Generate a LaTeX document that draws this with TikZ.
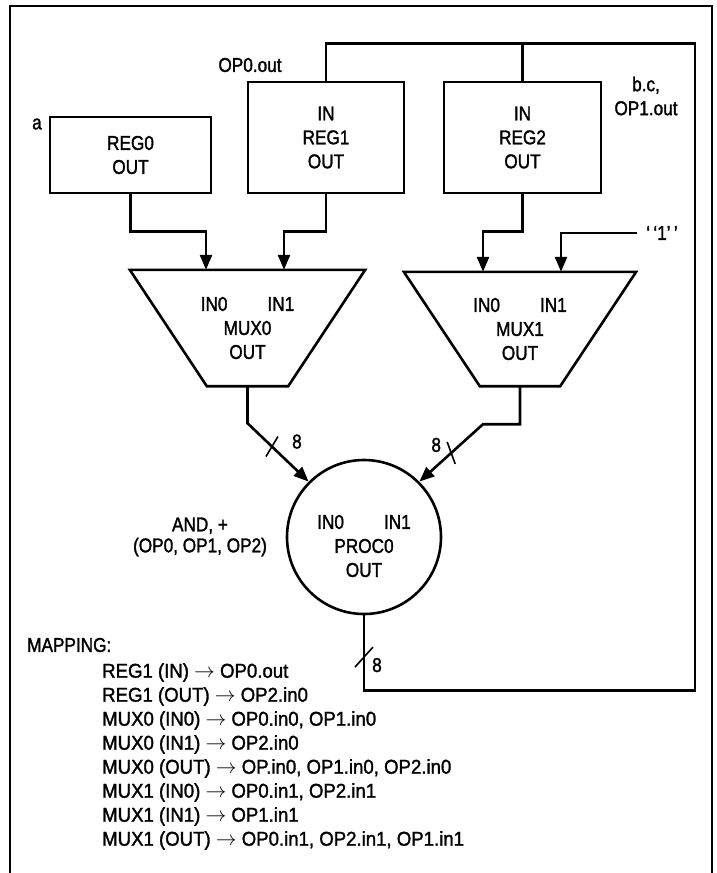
\documentclass[tikz,border=0pt]{standalone}
\usepackage{fontspec}
\setmainfont{Liberation Sans}[FakeStretch=0.86, FakeBold=1.5]
\newfontfamily\mapfont{Liberation Sans}[FakeStretch=0.93, FakeBold=1.5]
\usetikzlibrary{positioning,arrows.meta,calc}
\tikzset{
  block/.style={draw, line width=2.6pt, align=center, inner sep=0pt},
  muxbody/.style={align=center, inner sep=0pt},
  wire/.style={line width=2.6pt},
  feed/.style={wire, -{Triangle[length=15pt,width=12pt]}},
  bus/.style={line width=1.6pt},
  lbl/.style={inner sep=1pt, align=center},
  frame/.style={line width=1.4pt},
}
\newcommand{\portpair}{IN0\hspace{40pt}IN1}

\begin{document}
\begin{tikzpicture}[x=1pt, y=-1pt, font=\fontsize{20}{24}\selectfont]
  \useasboundingbox (0,0) rectangle (716,873);
  \draw[frame] (10,873) -- (10,6) -- (712,6) -- (712,873);

  % registers
  \node[block, minimum width=161pt, minimum height=76pt] (reg0) at (130.5,155) {REG0\\OUT};
  \node[block, minimum width=156pt, minimum height=111pt] (reg1) at (326,137.5) {IN\\REG1\\OUT};
  \node[block, minimum width=157pt, minimum height=111pt] (reg2) at (522.5,137.5) {IN\\REG2\\OUT};

  % multiplexers
  \node[muxbody, minimum width=235pt, minimum height=116pt] (mux0) at (247.5,328) {\portpair\\MUX0\\OUT};
  \node[muxbody, minimum width=232pt, minimum height=114pt] (mux1) at (520,329) {\portpair\\MUX1\\OUT};
  \draw[wire] (mux0.north west) -- (mux0.north east) -- ([xshift=-77pt]mux0.south east)
    -- ([xshift=77pt]mux0.south west) -- cycle;
  \draw[wire] (mux1.north west) -- (mux1.north east) -- ([xshift=-76pt]mux1.south east)
    -- ([xshift=76pt]mux1.south west) -- cycle;

  % processor
  \node[block, circle, minimum size=154pt] (proc0) at (364,537) {};
  \node[lbl] (proctext) at (364,546) {\portpair\\PROC0\\OUT};

  % register outputs and constant into the multiplexers
  \draw[feed] (reg0.south) -- ++(0,37) -| ([xshift=-41.5pt]mux0.north);
  \draw[feed] (reg1.south) -- ++(0,37) -| ([xshift=36.5pt]mux0.north);
  \draw[feed] (reg2.south) -- ++(0,37) -| ([xshift=-37pt]mux1.north);
  \node[lbl] (one) at (662,233) {`\,`1'\,'};
  \draw[feed] ([xshift=-8pt]one.west) -| ([xshift=41pt]mux1.north);

  % multiplexer outputs into the processor
  \draw[feed] (mux0.south) -- ++(0,37) -- node[coordinate, pos=0.4] (bus0) {} (proc0.135);
  \draw[feed] (mux1.south) -- ++(0,38) -- ++(-37,0) -- node[coordinate, pos=0.5] (bus1) {} (proc0.45);

  % result back to the registers
  \draw[wire] (proc0.south) -- node[coordinate, pos=0.57] (bus2) {} ++(0,75)
    -| ++(331,-647) coordinate (fbr) -| (reg1.north);
  \draw[wire] (reg2.north) -- (reg2.north |- fbr);

  % bus widths
  \draw[bus] ($(bus0)+(-6,10)$) -- ($(bus0)+(6,-10)$);
  \node[lbl] (w0) at ($(bus0)+(25,-5)$) {8};
  \draw[bus] ($(bus1)+(-4,-11)$) -- ($(bus1)+(4,11)$);
  \node[lbl] (w1) at ($(bus1)+(-15,-8)$) {8};
  \draw[bus] ($(bus2)+(-9,9)$) -- ($(bus2)+(9,-11)$);
  \node[lbl] (w2) at ($(bus2)+(13,7)$) {8};

  % operand labels
  \node[lbl] (ain) at (37,124) {a};
  \node[lbl] (opout) at (250,65) {OP0.out};
  \node[lbl] (bcout) at (646,96) {b.c,\\OP1.out};
  \node[lbl] (ops) at (200,537) {AND, +\\[-3pt](OP0, OP1, OP2)};

  % mapping
  \node[lbl, anchor=west] (maptitle) at (26,645) {MAPPING:};
  \node[lbl, align=left, anchor=north west, font=\mapfont\fontsize{20}{24}\selectfont] (maplist) at (101,662) {%
    REG1 (IN) $\rightarrow$\ OP0.out\\
    REG1 (OUT) $\rightarrow$\ OP2.in0\\
    MUX0 (IN0) $\rightarrow$\ OP0.in0, OP1.in0\\
    MUX0 (IN1) $\rightarrow$\ OP2.in0\\
    MUX0 (OUT) $\rightarrow$\ OP.in0, OP1.in0, OP2.in0\\
    MUX1 (IN0) $\rightarrow$\ OP0.in1, OP2.in1\\
    MUX1 (IN1) $\rightarrow$\ OP1.in1\\
    MUX1 (OUT) $\rightarrow$\ OP0.in1, OP2.in1, OP1.in1};
\end{tikzpicture}
\end{document}
